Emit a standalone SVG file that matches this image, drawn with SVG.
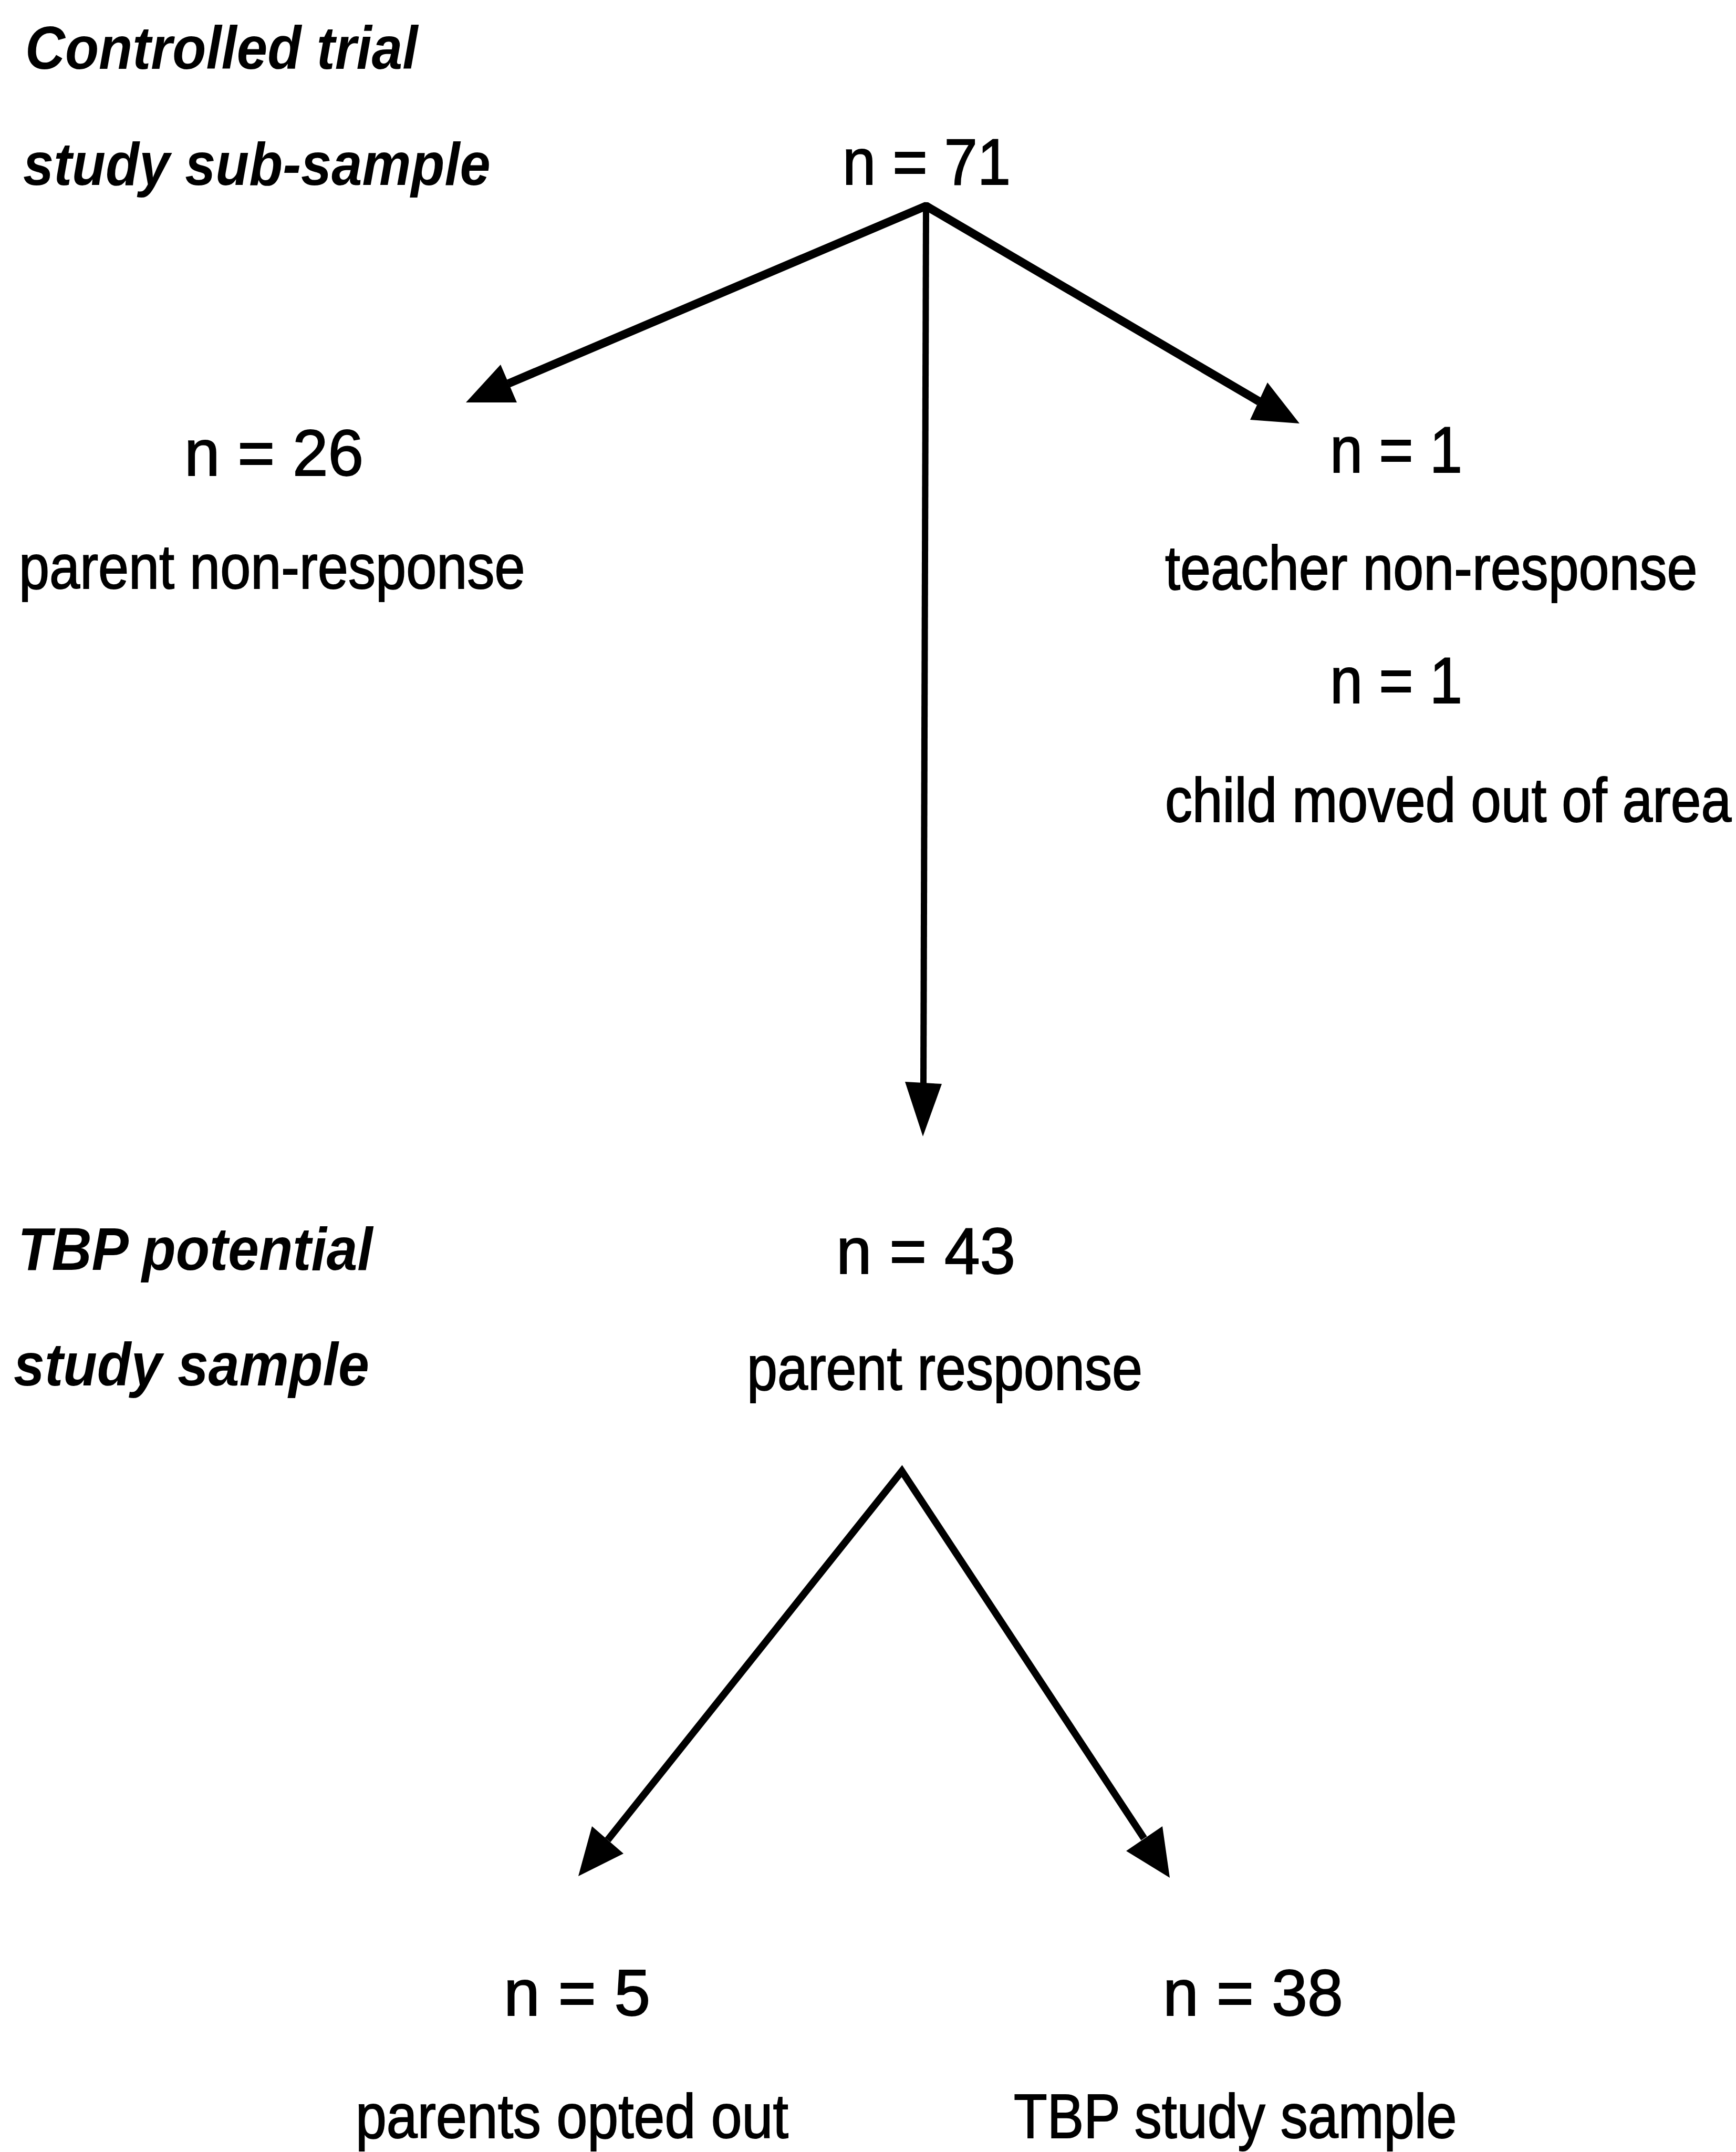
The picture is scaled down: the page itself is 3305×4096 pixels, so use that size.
<svg xmlns="http://www.w3.org/2000/svg" width="3305" height="4096" viewBox="0 0 3305 4096">
<style>
.t{font-family:"Liberation Sans",Arial,Helvetica,sans-serif;fill:#000}
.n{font-size:124px;stroke:#000;stroke-width:2}
.l{font-size:118px;stroke:#000;stroke-width:2}
.h{font-size:115px;font-weight:bold;font-style:italic}
.c{stroke:#000;fill:none}
.ah{fill:#000;stroke:none}
</style>
<rect width="3305" height="4096" fill="#fff"/>
<g id="stage-controlled-trial">
<text class="t h" transform="translate(48,131) scale(0.914,1)">Controlled trial</text>
<text class="t h" transform="translate(44,352) scale(0.91,1)">study sub-sample</text>
</g>
<g id="node-n71">
<text class="t n" transform="translate(1604,351) scale(0.92,1)">n = 71</text>
</g>
<g id="node-n26">
<text class="t n" transform="translate(351,905) scale(0.98,1)">n = 26</text>
<text class="t l" transform="translate(36,1120) scale(0.885,1)">parent non-response</text>
</g>
<g id="node-n1-teacher">
<text class="t n" transform="translate(2532,899) scale(0.903,1)">n = 1</text>
<text class="t l" transform="translate(2218,1122) scale(0.883,1)">teacher non-response</text>
</g>
<g id="node-n1-moved">
<text class="t n" transform="translate(2532,1338) scale(0.903,1)">n = 1</text>
<text class="t l" transform="translate(2218,1564) scale(0.879,1)">child moved out of area</text>
</g>
<g id="stage-tbp-potential">
<text class="t h" transform="translate(34,2417) scale(0.917,1)">TBP potential</text>
<text class="t h" transform="translate(26,2637) scale(0.921,1)">study sample</text>
</g>
<g id="node-n43">
<text class="t n" transform="translate(1592,2424) scale(0.98,1)">n = 43</text>
<text class="t l" transform="translate(1422,2645) scale(0.883,1)">parent response</text>
</g>
<g id="node-n5">
<text class="t n" transform="translate(959,3836)">n = 5</text>
<text class="t l" transform="translate(677,4069) scale(0.897,1)">parents opted out</text>
</g>
<g id="node-n38">
<text class="t n" transform="translate(2214,3836) scale(0.985,1)">n = 38</text>
<text class="t l" transform="translate(1930,4069) scale(0.883,1)">TBP study sample</text>
</g>
<g id="connectors">
<polyline class="c" points="968,730 1763,392 2397,764" stroke-width="16" stroke-linejoin="bevel"/>
<line class="c" x1="1763" y1="392" x2="1758" y2="2066" stroke-width="12"/>
<polyline class="c" points="1157,3502 1717,2800 2178,3499" stroke-width="13.5" stroke-linejoin="miter"/>
<polygon class="ah" points="887,766 953,694 984,766"/>
<polygon class="ah" points="2474,806 2413,728 2380,799"/>
<polygon class="ah" points="1723,2059 1793,2063 1757,2163"/>
<polygon class="ah" points="1101,3571 1127,3476 1187,3528"/>
<polygon class="ah" points="2227,3574 2213,3476 2144,3523"/>
</g>
</svg>
